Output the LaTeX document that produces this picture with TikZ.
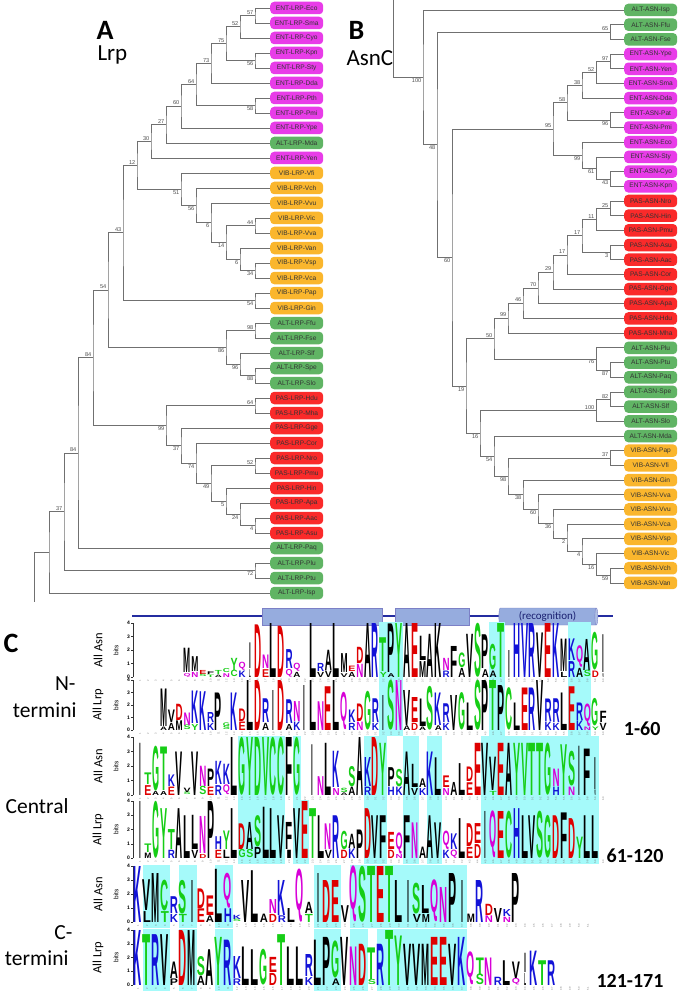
\documentclass[tikz,border=0pt]{standalone}
\usepackage{fontspec}
\setmainfont{Carlito}
\newfontfamily\arialfont{Liberation Sans}
\newfontfamily\logofont{Liberation Sans}
\usepackage{graphicx}
\usetikzlibrary{calc,shapes.geometric}

\definecolor{entc}{RGB}{232,60,232}
\definecolor{vibc}{RGB}{250,182,45}
\definecolor{altc}{RGB}{96,180,100}
\definecolor{pasc}{RGB}{250,42,42}
\definecolor{branch}{RGB}{112,112,112}
\definecolor{hilite}{RGB}{165,250,250}
\definecolor{ssblue}{RGB}{36,44,160}
\definecolor{cylfill}{RGB}{150,172,222}
\definecolor{lk}{RGB}{0,0,0}
\definecolor{lg}{RGB}{22,205,22}
\definecolor{lb}{RGB}{18,18,215}
\definecolor{lr}{RGB}{222,0,0}
\definecolor{lm}{RGB}{215,0,215}

\def\letI{I}

% one bracket of a tree: name, x, upper child, lower child, bootstrap, label anchor
\newcommand\clade[6]{%
  \path let \p1=(#3), \p2=(#4) in (#2pt,{0.5*(\y1+\y2)}) coordinate (#1);
  \draw[br] (#3) -| (#1) |- (#4);
  \node[boot,anchor=#6] (#1l) at (#1) {#5};
}
% one glyph of a logo: name, x, y, width, height, letter, colour
\newcommand\logoletter[7]{%
  \node[logolt,text=#7] (#1) at (#2,#3) {\resizebox*{#4pt}{#5pt}{\logofont\bfseries #6}};
}
% a logo row: id, baseline, x of column 1, column width, px per bit, columns, letters
\newcommand\logorow[7]{%
  \foreach \i in {1,...,#6}
    \node[posnum] (#1-n\i) at ({#3+(\i-1)*#4},{#2+3.6}) {\i};
  \foreach \col/\la/\ha/\ca/\lb/\hb/\cb in {#7}{%
    \ifx\lb\letI \def\wfac{0.22}\else\def\wfac{0.9}\fi
    \pgfmathsetmacro\xc{#3+(\col-1)*#4}%
    \pgfmathsetmacro\wl{\wfac*#4}%
    \ifdim\ha pt>0pt
      \pgfmathsetmacro\hl{\ha*#5-0.3}%
      \logoletter{#1-\col a}{\xc}{#2}{\wl}{\hl}{\la}{\ca}%
    \fi
    \pgfmathsetmacro\yt{#2-\ha*#5}%
    \pgfmathsetmacro\hl{\hb*#5}%
    \logoletter{#1-\col b}{\xc}{\yt}{\wl}{\hl}{\lb}{\cb}%
  }%
}
% axis of a logo row: id, baseline, px per bit, row name
\newcommand\logoaxis[4]{%
  \draw[axisline] (133,#2) -- (133,{#2-4*#3});
  \foreach \t in {0,...,4}{%
    \draw[axisline] (131,{#2-\t*#3}) -- (133,{#2-\t*#3});
    \node[ticklbl] (#1-t\t) at (130.5,{#2-\t*#3}) {\t};
  }
  \node[bitslbl] (#1-bits) at (116,{#2-2*#3}) {bits};
  \node[rowlbl] (#1-name) at (98,{#2-2*#3}) {#4};
}
% cyan band: baseline, x of column 1, column width, px per bit, first, last column
\newcommand\band[6]{%
  \fill[hilite] ({#2+(#5-1.5)*#3},{#1-4*#4-1}) rectangle ({#2+(#6-0.5)*#3},{#1+6});
}

\tikzset{
br/.style={draw=branch, line width=0.75pt}, % tree branches
leaf/.style={rounded corners=4pt, minimum width=53pt, minimum height=12.5pt, inner sep=1pt, anchor=west,
  font=\arialfont\fontsize{6.6}{7}\selectfont, text=black!80}, % taxon boxes
ent/.style={leaf, fill=entc},
vib/.style={leaf, fill=vibc},
alt/.style={leaf, fill=altc},
pas/.style={leaf, fill=pasc},
boot/.style={font=\arialfont\fontsize{5.6}{6}\selectfont, text=black!70, inner sep=1pt, xshift=-0.5pt},
paneltitle/.style={anchor=base west, font=\fontsize{28}{30}\selectfont\bfseries},
genetitle/.style={anchor=base west, font=\fontsize{23}{25}\selectfont},
logolt/.style={anchor=south, inner sep=0pt, outer sep=0pt},
posnum/.style={rotate=90, font=\arialfont\fontsize{2.6}{3}\selectfont, text=black!55, inner sep=0pt},
axisline/.style={draw=black!80, line width=0.5pt},
ticklbl/.style={anchor=east, inner sep=0.5pt, font=\arialfont\bfseries\fontsize{5}{5}\selectfont},
bitslbl/.style={rotate=90, font=\arialfont\fontsize{6.5}{7}\selectfont},
rowlbl/.style={rotate=90, font=\fontsize{12.5}{13}\selectfont},
sidelbl/.style={anchor=base east, font=\fontsize{21.5}{24}\selectfont},
rangelbl/.style={anchor=base east, font=\fontsize{20}{22}\selectfont\bfseries},
helix/.style={cylinder, shape border rotate=0, aspect=0.3, draw=ssblue!60, cylinder uses custom fill,
  cylinder body fill=cylfill, cylinder end fill=cylfill!75!white, minimum width=17pt, inner sep=0pt,
  font=\fontsize{11}{12}\selectfont, text=ssblue!70!black},
}

\begin{document}
\begin{tikzpicture}[x=1pt,y=-1pt]
\useasboundingbox (0,0) rectangle (681,992);

% ---------- A: Lrp tree
\node[paneltitle] (titA) at (93,40) {A};
\node[genetitle] (geneA) at (94,61) {Lrp};
\foreach \cl/\pre/\nm [count=\i] in {ent/ENT/Eco,ent/ENT/Sma,ent/ENT/Cyo,ent/ENT/Kpn,ent/ENT/Sty,ent/ENT/Dda,
  ent/ENT/Pth,ent/ENT/Pmi,ent/ENT/Ype,alt/ALT/Mda,ent/ENT/Yen,vib/VIB/Vfi,vib/VIB/Vch,vib/VIB/Vvu,vib/VIB/Vic,
  vib/VIB/Vva,vib/VIB/Van,vib/VIB/Vsp,vib/VIB/Vca,vib/VIB/Pap,vib/VIB/Gin,alt/ALT/Ffu,alt/ALT/Fse,alt/ALT/Slf,
  alt/ALT/Spe,alt/ALT/Slo,pas/PAS/Hdu,pas/PAS/Mha,pas/PAS/Gge,pas/PAS/Cor,pas/PAS/Nro,pas/PAS/Pmu,pas/PAS/Hin,
  pas/PAS/Apa,pas/PAS/Aac,pas/PAS/Asu,alt/ALT/Paq,alt/ALT/Plu,alt/ALT/Ptu,alt/ALT/Isp}
  \node[\cl] (a\nm) at (270,{8+15*(\i-1)}) {\pre-LRP-\nm};

\clade{a57}{255}{aEco.west}{aSma.west}{57}{south east}
\clade{a52}{240}{a57}{aCyo.west}{52}{south east}
\clade{a56}{255}{aKpn.west}{aSty.west}{56}{north east}
\clade{a75}{226}{a52}{a56}{75}{south east}
\clade{a73}{211}{a75}{aDda.west}{73}{south east}
\clade{a58}{255}{aPth.west}{aPmi.west}{58}{north east}
\clade{a64}{196}{a73}{a58}{64}{south east}
\clade{a60}{181}{a64}{aYpe.west}{60}{south east}
\clade{a27}{166}{a60}{aMda.west}{27}{south east}
\clade{a30}{151}{a27}{aYen.west}{30}{south east}
\clade{a34}{255}{aVsp.west}{aVca.west}{34}{north east}
\clade{a6b}{240}{aVan.west}{a34}{6}{north east}
\clade{a44}{255}{aVic.west}{aVva.west}{44}{south east}
\clade{a14}{226}{a44}{a6b}{14}{north east}
\clade{a6}{211}{aVvu.west}{a14}{6}{north east}
\clade{a56b}{196}{aVch.west}{a6}{56}{north east}
\clade{a51}{181}{aVfi.west}{a56b}{51}{north east}
\clade{a12}{137}{a30}{a51}{12}{south east}
\clade{a54b}{255}{aPap.west}{aGin.west}{54}{north east}
\clade{a43}{123}{a12}{a54b}{43}{south east}
\clade{a98}{255}{aFfu.west}{aFse.west}{98}{south east}
\clade{a88}{255}{aSpe.west}{aSlo.west}{88}{north east}
\clade{a96}{240}{aSlf.west}{a88}{96}{north east}
\clade{a86}{226}{a98}{a96}{86}{north east}
\clade{a54}{108}{a43}{a86}{54}{south east}
\clade{a64b}{255}{aHdu.west}{aMha.west}{64}{south east}
\clade{a4}{255}{aAac.west}{aAsu.west}{4}{north east}
\clade{a24}{240}{aApa.west}{a4}{24}{north east}
\clade{a5}{226}{aHin.west}{a24}{5}{north east}
\clade{a52b}{255}{aNro.west}{aPmu.west}{52}{south east}
\clade{a49}{211}{a52b}{a5}{49}{north east}
\clade{a74}{196}{aCor.west}{a49}{74}{north east}
\clade{a37}{181}{aGge.west}{a74}{37}{north east}
\clade{a99}{166}{a64b}{a37}{99}{north east}
\clade{a84}{93}{a54}{a99}{84}{south east}
\clade{a84b}{78}{a84}{aPaq.west}{84}{south east}
\clade{a72}{255}{aPlu.west}{aPtu.west}{72}{north east}
\clade{a37b}{64}{a84b}{a72}{37}{south east}
\path let \p1=(a37b), \p2=(aIsp.west) in (49pt,{0.5*(\y1+\y2)}) coordinate (aroot);
\draw[br] (a37b) -| (aroot) |- (aIsp.west);
\coordinate (astub) at (34,602);
\draw[br] (aroot) -| (astub);

% ---------- B: AsnC tree
\node[paneltitle] (titB) at (345,40) {B};
\node[genetitle] (geneB) at (343,66) {AsnC};
\foreach \cl/\pre/\nm [count=\i] in {alt/ALT/Isp,alt/ALT/Ffu,alt/ALT/Fse,ent/ENT/Ype,ent/ENT/Yen,ent/ENT/Sma,
  ent/ENT/Dda,ent/ENT/Pat,ent/ENT/Pmi,ent/ENT/Eco,ent/ENT/Sty,ent/ENT/Cyo,ent/ENT/Kpn,pas/PAS/Nro,pas/PAS/Hin,
  pas/PAS/Pmu,pas/PAS/Asu,pas/PAS/Aac,pas/PAS/Cor,pas/PAS/Gge,pas/PAS/Apa,pas/PAS/Hdu,pas/PAS/Mha,alt/ALT/Plu,
  alt/ALT/Ptu,alt/ALT/Paq,alt/ALT/Spe,alt/ALT/Slf,alt/ALT/Slo,alt/ALT/Mda,vib/VIB/Pap,vib/VIB/Vfi,vib/VIB/Gin,
  vib/VIB/Vva,vib/VIB/Vvu,vib/VIB/Vca,vib/VIB/Vsp,vib/VIB/Vic,vib/VIB/Vch,vib/VIB/Van}
  \node[\cl] (b\nm) at (624,{10+14.69*(\i-1)}) {\pre-ASN-\nm};

\clade{b65}{610}{bFfu.west}{bFse.west}{65}{south east}
\clade{b97}{610}{bYpe.west}{bYen.west}{97}{south east}
\clade{b52}{596}{b97}{bSma.west}{52}{south east}
\clade{b38}{582}{b52}{bDda.west}{38}{south east}
\clade{b96}{610}{bPat.west}{bPmi.west}{96}{north east}
\clade{b58}{567}{b38}{b96}{58}{south east}
\clade{b43}{610}{bCyo.west}{bKpn.west}{43}{north east}
\clade{b61}{596}{bSty.west}{b43}{61}{north east}
\clade{b99}{582}{bEco.west}{b61}{99}{north east}
\clade{b95}{553}{b58}{b99}{95}{south east}
\clade{b25}{610}{bNro.west}{bHin.west}{25}{south east}
\clade{b11}{596}{b25}{bPmu.west}{11}{south east}
\clade{b3}{610}{bAsu.west}{bAac.west}{3}{north east}
\clade{b17}{582}{b11}{b3}{17}{south east}
\clade{b17b}{567}{b17}{bCor.west}{17}{south east}
\clade{b29}{553}{b17b}{bGge.west}{29}{south east}
\clade{b70}{538}{b29}{bApa.west}{70}{south east}
\clade{b46}{523}{b70}{bHdu.west}{46}{south east}
\clade{b99b}{508}{b46}{bMha.west}{99}{south east}
\clade{b87}{610}{bPtu.west}{bPaq.west}{87}{north east}
\clade{b76}{596}{bPlu.west}{b87}{76}{north east}
\clade{b50}{494}{b99b}{b76}{50}{south east}
\clade{b82}{610}{bSpe.west}{bSlf.west}{82}{south east}
\clade{b100b}{596}{b82}{bSlo.west}{100}{south east}
\clade{b37}{610}{bPap.west}{bVfi.west}{37}{south east}
\clade{b59}{610}{bVch.west}{bVan.west}{59}{north east}
\clade{b16b}{596}{bVic.west}{b59}{16}{north east}
\clade{b4}{582}{bVsp.west}{b16b}{4}{north east}
\clade{b2}{567}{bVca.west}{b4}{2}{north east}
\clade{b36}{553}{bVvu.west}{b2}{36}{north east}
\clade{b60b}{538}{bVva.west}{b36}{60}{north east}
\clade{b38b}{523}{bGin.west}{b60b}{38}{north east}
\clade{b98}{508}{b37}{b38b}{98}{north east}
\clade{b54}{494}{bMda.west}{b98}{54}{north east}
\clade{b16}{480}{b100b}{b54}{16}{north east}
\clade{b19}{466}{b50}{b16}{19}{north east}
\clade{b60}{452}{b95}{b19}{60}{north east}
\clade{b48}{437}{b65}{b60}{48}{north east}
\clade{b100}{423}{bIsp.west}{b48}{100}{north east}
\coordinate (bstub) at (393,0);
\draw[br] (b100) -| (bstub);

% ---------- C: logos
\node[paneltitle] (titC) at (0,652) {C};
\coordinate (ssL) at (132,616);
\coordinate (ssR) at (613,616);
\draw[ssblue, line width=1.4pt] (ssL) -- (ssR);
\node[helix, minimum height=120pt] (helix1) at (322,616.5) {};
\node[helix, minimum height=74pt] (helix2) at (432,616.5) {};
\node[helix, minimum height=99pt] (helix3) at (547.5,616.5) {(recognition)};

\node[sidelbl] (labN1) at (79,690) {N-};
\node[sidelbl] (labN2) at (80,717) {termini};
\node[sidelbl] (labM) at (72,813) {Central};
\node[sidelbl] (labC1) at (76,939) {C-};
\node[sidelbl] (labC2) at (72,965) {termini};
\node[rangelbl] (rng1) at (664,735) {1-60};
\node[rangelbl] (rng2) at (667,862) {61-120};
\node[rangelbl] (rng3) at (667,987) {121-171};

% highlighted columns
\foreach \a/\b in {32/34,46/47,56/58} {\band{677}{140}{7.85}{13.5}{\a}{\b} \band{730}{140}{7.85}{12.5}{\a}{\b}}
\foreach \a/\b in {14/19,21/21,30/32,35/36,38/39,45/59} \band{795}{140}{7.85}{14.5}{\a}{\b};
\foreach \a/\b in {14/19,21/22,30/32,35/36,38/39,45/59} \band{858}{140}{7.85}{14.25}{\a}{\b};
\foreach \a/\b in {2/4,6/7,10/11,21/23,25/37} \band{922}{138}{9}{14}{\a}{\b};
\foreach \a/\b in {2/4,6/7,10/11,21/23,25/26,28/37} \band{985}{138}{9}{13.75}{\a}{\b};

\logoaxis{r1}{677}{13.5}{All Asn}
\logoaxis{r2}{730}{12.5}{All Lrp}
\logoaxis{r3}{795}{14.5}{All Asn}
\logoaxis{r4}{858}{14.25}{All Lrp}
\logoaxis{r5}{922}{14}{All Asn}
\logoaxis{r6}{985}{13.75}{All Lrp}

\logorow{r1}{677}{140}{7.85}{13.5}{60}{7/Q/0.3/lm/M/1.8/lk, 8/N/0.4/lm/M/1.1/lk, 9/S/0.2/lg/E/0.3/lr,
  10/T/0.2/lg/F/0.2/lk, 11/A/0.2/lk/T/0.3/lg, 12/N/0.3/lm/C/0.3/lg, 13/C/0.5/lg/Y/0.9/lg, 14/K/0.5/lb/Q/0.6/lm,
  15/L/0.6/lk/I/1.9/lk, 16/x/0/lk/D/3.9/lr, 17/E/0.6/lr/N/1.0/lm, 18/x/0/lk/L/4/lk, 19/x/0/lk/D/3.8/lr,
  20/Q/0.6/lm/R/1.4/lb, 21/A/0.4/lk/Q/0.6/lm, 23/x/0/lk/L/4/lk, 24/V/0.4/lk/R/0.6/lb, 25/V/0.5/lk/A/1.5/lk,
  26/x/0/lk/L/4/lk, 27/V/0.3/lk/M/1.4/lk, 28/A/0.4/lk/E/0.4/lr, 29/N/1.0/lm/D/1.2/lr, 30/x/0/lk/A/4/lk,
  31/x/0/lk/R/4/lb, 32/Y/0.4/lg/T/2.5/lg, 33/A/0.3/lk/P/3.6/lk, 34/x/0/lk/Y/4/lg, 35/x/0/lk/A/4/lk,
  36/x/0/lk/E/4/lr, 37/M/1.2/lk/L/1.8/lk, 38/x/0/lk/A/3.2/lk, 39/x/0/lk/K/4/lk, 40/R/0.5/lb/N/0.9/lm,
  41/x/0/lk/F/2.3/lk, 42/A/0.7/lk/G/1.1/lg, 43/x/0/lk/V/3.2/lk, 44/x/0/lk/S/4/lg, 45/A/0.6/lk/P/2.5/lk,
  46/A/0.5/lk/G/1.9/lg, 47/x/0/lk/T/4/lg, 48/x/0/lk/I/2/lk, 49/x/0/lk/H/4/lb, 50/x/0/lk/V/4/lb,
  51/x/0/lk/R/4/lb, 52/x/0/lk/V/3.3/lk, 53/x/0/lk/E/4/lr, 54/x/0/lk/K/4/lb, 55/L/0.4/lk/M/2.4/lk,
  56/R/1.2/lb/K/1.6/lb, 57/A/0.7/lk/Q/1.6/lm, 58/S/0.5/lg/A/2.3/lk, 59/D/0.5/lr/G/2.8/lg, 60/V/0.3/lk/I/2.8/lk}

\logorow{r2}{730}{140}{7.85}{12.5}{60}{4/A/0.3/lk/M/3.0/lk, 5/A/0.6/lk/V/1.0/lk, 6/M/0.8/lk/D/1.3/lr,
  7/S/0.4/lg/N/1.0/lm, 8/Y/0.5/lg/K/2.6/lb, 9/x/0/lk/K/3.1/lb, 10/K/0.6/lb/R/0.8/lb, 11/x/0/lk/P/3/lk,
  12/S/0.3/lg/G/0.3/lg, 13/x/0/lk/K/3/lb, 14/E/0.7/lr/D/1.0/lr, 15/x/0/lk/L/4/lk, 16/x/0/lk/D/4/lr,
  17/A/0.6/lk/R/1.9/lb, 18/x/0/lk/I/3.2/lk, 19/x/0/lk/D/4/lr, 20/A/0.5/lk/R/1.9/lb, 21/K/0.7/lb/N/1.6/lm,
  22/x/0/lk/I/3.6/lk, 23/x/0/lk/L/4/lk, 24/x/0/lk/N/2.3/lm, 25/x/0/lk/E/3.5/lr, 26/x/0/lk/L/4/lk,
  27/x/0/lk/Q/3/lm, 28/R/0.6/lb/K/1.0/lb, 29/N/0.7/lm/D/1.4/lr, 30/x/0/lk/G/3.1/lg, 31/K/0.6/lb/R/1.9/lb,
  32/x/0/lk/I/2.8/lk, 33/x/0/lk/S/4/lg, 34/x/0/lk/N/4/lm, 35/A/0.4/lk/V/2.8/lk, 36/D/0.6/lr/E/2/lr,
  37/A/0.3/lk/L/2.2/lk, 38/x/0/lk/S/3.5/lg, 39/A/0.4/lk/K/2.6/lb, 40/K/0.6/lb/R/1.5/lb, 41/x/0/lk/V/2.8/lk,
  42/x/0/lk/G/3.0/lg, 43/x/0/lk/L/2.2/lk, 44/x/0/lk/S/4/lg, 45/x/0/lk/P/4/lk, 46/x/0/lk/T/4/lg,
  47/x/0/lk/P/3.6/lk, 48/x/0/lk/C/3.4/lg, 49/x/0/lk/L/2.2/lk, 50/x/0/lk/E/3.4/lr, 51/x/0/lk/R/3.4/lb,
  52/x/0/lk/V/4/lk, 53/K/0.7/lb/R/1.8/lb, 54/K/0.6/lb/R/1.9/lb, 55/x/0/lk/L/3/lk, 56/x/0/lk/E/3.5/lr,
  57/K/0.8/lb/R/1.4/lb, 58/N/0.3/lm/Q/1.8/lm, 59/Y/0.3/lg/G/2.2/lg, 60/V/0.6/lk/F/0.9/lk}

\logorow{r3}{795}{140}{7.85}{14.5}{60}{1/x/0/lk/I/3.6/lk, 2/E/0.7/lr/T/0.8/lg, 3/A/0.3/lk/G/3.1/lg,
  4/A/0.3/lk/T/3.0/lg, 5/E/0.6/lr/K/0.8/lb, 6/x/0/lk/V/3/lk, 7/S/0.2/lg/V/0.3/lk, 8/x/0/lk/V/3/lk,
  9/S/0.6/lg/N/1.4/lm, 10/E/0.6/lr/P/1.2/lk, 11/R/0.7/lb/K/1.6/lb, 12/Q/0.7/lm/K/1.4/lb, 13/x/0/lk/L/4/lk,
  14/x/0/lk/G/4/lg, 15/x/0/lk/Y/4/lg, 16/x/0/lk/D/4/lg, 17/x/0/lk/V/4/lg, 18/x/0/lk/C/4/lg, 19/x/0/lk/C/4/lg,
  20/x/0/lk/F/4/lk, 21/x/0/lk/G/4/lg, 23/x/0/lk/I/3.5/lk, 24/x/0/lk/N/1.3/lm, 25/x/0/lk/L/3.6/lk,
  26/N/0.5/lm/K/2.5/lb, 27/A/0.2/lk/S/0.3/lg, 28/A/0.6/lk/S/1.4/lg, 29/x/0/lk/A/4/lk, 30/R/0.6/lb/K/2/lb,
  31/x/0/lk/D/4/lr, 32/x/0/lk/Y/3.6/lg, 33/H/0.6/lb/P/1.3/lk, 34/K/0.6/lb/S/1.2/lg, 35/x/0/lk/A/3/lk,
  36/V/0.5/lk/L/1.6/lk, 37/K/0.5/lb/A/0.6/lk, 38/x/0/lk/K/3/lb, 39/x/0/lk/L/2.6/lk, 40/N/0.5/lm/E/0.8/lr,
  41/x/0/lk/A/0.9/lk, 42/x/0/lk/L/2.2/lk, 43/E/0.9/lr/D/1.0/lr, 44/x/0/lk/E/3.6/lr, 45/x/0/lk/V/3.6/lk,
  46/T/0.3/lg/V/2.3/lk, 47/x/0/lk/E/3.6/lr, 48/x/0/lk/A/3.6/lk, 49/x/0/lk/Y/3.6/lg, 50/x/0/lk/V/3.6/lg,
  51/x/0/lk/T/3.6/lg, 52/x/0/lk/T/3.6/lg, 53/x/0/lk/G/3.6/lg, 54/H/0.6/lb/N/1.2/lm, 55/x/0/lk/Y/3.5/lg,
  56/N/0.6/lm/S/2.4/lg, 57/x/0/lk/I/3.4/lk, 58/x/0/lk/F/3.2/lk, 59/V/0.4/lk/I/2.2/lk}

\logorow{r4}{858}{140}{7.85}{14.25}{60}{1/x/0/lk/I/4/lk, 2/M/0.4/lk/T/0.6/lg, 3/x/0/lk/G/4/lg,
  4/x/0/lk/Y/3.5/lg, 5/R/0.6/lb/T/1.4/lg, 6/x/0/lk/A/3.5/lk, 7/x/0/lk/L/3/lk, 8/V/0.6/lk/L/2.4/lk,
  9/D/0.3/lr/N/2.6/lm, 10/x/0/lk/P/4/lk, 11/E/0.6/lr/H/0.9/lb, 12/L/0.6/lk/Y/1.3/lg, 13/x/0/lk/L/3.5/lk,
  14/G/0.6/lg/D/1.8/lr, 15/S/0.6/lg/A/1.9/lk, 16/P/0.8/lk/S/2.2/lg, 17/x/0/lk/L/3.6/lk, 18/x/0/lk/L/3.5/lk,
  19/x/0/lk/V/3.0/lk, 20/I/0.6/lk/F/1.9/lk, 21/x/0/lk/V/3.5/lk, 22/x/0/lk/E/4/lr, 23/x/0/lk/T/3.5/lg,
  24/x/0/lk/L/3/lk, 25/V/0.6/lk/N/1.8/lm, 26/x/0/lk/R/3/lb, 27/D/0.6/lr/G/1.3/lg, 28/K/0.7/lb/A/1/lk,
  29/x/0/lk/P/2/lk, 30/x/0/lk/D/3.5/lr, 31/x/0/lk/V/3/lk, 32/x/0/lk/F/3/lk, 33/D/0.6/lr/E/1.2/lr,
  34/N/0.3/lm/Q/1.5/lm, 35/x/0/lk/F/3/lk, 36/x/0/lk/N/2.5/lm, 37/x/0/lk/A/0.8/lk, 38/x/0/lk/A/3/lk,
  39/x/0/lk/V/2.5/lk, 40/K/0.6/lb/Q/1.3/lm, 41/Q/0.6/lm/K/1.1/lb, 42/x/0/lk/L/2.8/lk, 43/E/0.8/lr/D/1.6/lr,
  44/D/1.0/lr/E/1.4/lr, 45/x/0/lk/I/3.3/lk, 46/x/0/lk/Q/3.3/lm, 47/x/0/lk/E/3.3/lr, 48/x/0/lk/C/3.3/lg,
  49/x/0/lk/H/3.5/lb, 50/x/0/lk/L/3/lk, 51/x/0/lk/V/3/lk, 52/x/0/lk/S/3.3/lg, 53/x/0/lk/G/3/lg,
  54/x/0/lk/D/3/lr, 55/x/0/lk/F/3.2/lk, 56/x/0/lk/D/2.8/lr, 57/x/0/lk/Y/1.5/lg, 58/x/0/lk/L/3/lk,
  59/x/0/lk/L/3/lk}

\logorow{r5}{922}{138}{9}{14}{51}{1/x/0/lk/K/4/lb, 2/L/0.8/lk/V/2.2/lk, 3/x/0/lk/M/3.5/lk,
  4/T/0.8/lg/C/2.2/lg, 5/K/0.6/lb/R/1.2/lb, 6/T/0.6/lg/S/2.4/lg, 7/x/0/lk/I/3/lk, 8/E/1.0/lr/D/1.4/lr,
  9/A/0.5/lk/E/1.4/lr, 10/x/0/lk/L/3.8/lk, 11/H/1.0/lb/Q/2.5/lm, 12/S/0.2/lg/K/0.3/lb, 13/x/0/lk/V/3/lk,
  14/x/0/lk/L/3.7/lk, 15/x/0/lk/A/0.6/lk, 16/D/0.6/lr/N/1.0/lm, 17/R/0.5/lb/K/2.5/lb, 18/x/0/lk/L/1/lk,
  19/x/0/lk/Q/3.8/lm, 20/T/0.6/lg/A/0.8/lk, 21/x/0/lk/I/3.5/lk, 22/x/0/lk/D/3/lr, 23/x/0/lk/E/3/lr,
  24/x/0/lk/V/1.2/lk, 25/x/0/lk/Q/4/lm, 26/x/0/lk/S/4/lg, 27/x/0/lk/T/4/lg, 28/x/0/lk/E/4/lr,
  29/x/0/lk/T/4/lg, 30/x/0/lk/L/3/lk, 31/x/0/lk/I/3/lk, 32/V/0.6/lk/S/2.2/lg, 33/M/0.6/lk/L/2/lk,
  34/x/0/lk/Q/3/lm, 35/x/0/lk/N/2.5/lm, 36/x/0/lk/P/3.5/lk, 37/x/0/lk/I/3/lk, 38/x/0/lk/M/0.6/lk,
  39/x/0/lk/R/3/lb, 40/N/0.5/lm/D/0.8/lr, 41/x/0/lk/V/1/lk, 42/N/0.4/lm/K/0.5/lb, 43/x/0/lk/P/3.5/lk}

\logorow{r6}{985}{138}{9}{13.75}{51}{1/x/0/lk/K/4/lb, 2/x/0/lk/T/3.7/lg, 3/x/0/lk/R/3.7/lb,
  4/x/0/lk/V/3.7/lk, 5/P/0.5/lk/A/1.2/lk, 6/x/0/lk/D/4/lr, 7/x/0/lk/M/4/lk, 8/A/0.7/lk/S/1.4/lg,
  9/x/0/lk/A/2.6/lk, 10/x/0/lk/Y/3.5/lg, 11/x/0/lk/R/3.3/lb, 12/R/0.5/lb/K/1.6/lb, 13/x/0/lk/L/2.8/lk,
  14/x/0/lk/L/2.6/lk, 15/x/0/lk/G/2.6/lg, 16/D/0.9/lr/E/1.1/lr, 17/x/0/lk/T/3.7/lg, 18/x/0/lk/L/2.8/lk,
  19/x/0/lk/L/2.8/lk, 20/K/0.6/lb/R/1.6/lb, 21/x/0/lk/L/3.3/lk, 22/x/0/lk/P/3.5/lk, 23/A/0.5/lk/G/2.7/lg,
  24/x/0/lk/V/3.5/lk, 25/x/0/lk/N/2.8/lm, 26/x/0/lk/D/3/lr, 27/S/0.4/lg/T/2.3/lg, 28/x/0/lk/R/3/lb,
  29/x/0/lk/T/4/lg, 30/x/0/lk/Y/3.6/lg, 31/x/0/lk/V/3/lk, 32/x/0/lk/V/3/lk, 33/x/0/lk/M/3/lk,
  34/x/0/lk/E/3.5/lr, 35/x/0/lk/E/3.5/lr, 36/x/0/lk/V/3/lk, 37/x/0/lk/K/3.5/lb, 38/x/0/lk/Q/2.4/lm,
  39/S/0.8/lg/T/1.2/lg, 40/x/0/lk/N/2/lm, 41/x/0/lk/R/0.6/lb, 42/x/0/lk/L/1.8/lk, 43/Q/0.5/lm/V/1.2/lk,
  44/L/0.9/lk/I/1.4/lk, 45/x/0/lk/K/2.5/lb, 46/x/0/lk/T/1.8/lg, 47/x/0/lk/R/1.8/lb}
\end{tikzpicture}
\end{document}
